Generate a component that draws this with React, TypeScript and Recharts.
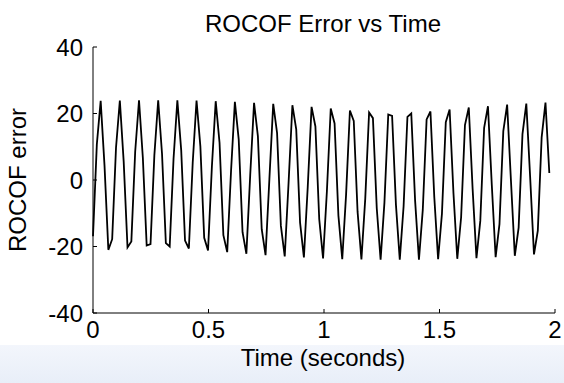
import { LineChart, Line, XAxis, YAxis } from "recharts"

// ROCOF error, sampled every SAMPLE_INTERVAL seconds starting at t = 0
const SAMPLE_INTERVAL = 0.0166
const ROCOF_ERROR = [
  -16.9, 10.7, 23.8, 4.4, -21.0,
  -17.8, 9.7, 23.9, 5.6, -20.3,
  -18.5, 8.5, 24.0, 6.7, -19.7,
  -19.3, 7.4, 24.0, 7.9, -19.0,
  -20.0, 6.3, 24.0, 9.0, -18.2,
  -20.6, 5.1, 23.9, 10.1, -17.4,
  -21.2, 3.9, 23.7, 11.2, -16.6,
  -21.7, 2.7, 23.5, 12.2, -15.7,
  -22.2, 1.5, 23.2, 13.2, -14.8,
  -22.6, 0.3, 22.9, 14.2, -13.8,
  -23.0, -0.9, 22.5, 15.2, -12.8,
  -23.3, -2.1, 22.0, 16.1, -11.8,
  -23.6, -3.3, 21.5, 17.0, -10.7,
  -23.8, -4.4, 20.9, 17.8, -9.6,
  -23.9, -5.6, 20.3, 18.6, -8.5,
  -24.0, -6.8, 19.7, 19.3, -7.4,
  -24.0, -7.9, 19.0, 20.0, -6.2,
  -24.0, -9.0, 18.2, 20.6, -5.1,
  -23.8, -10.1, 17.4, 21.2, -3.9,
  -23.7, -11.2, 16.5, 21.8, -2.7,
  -23.5, -12.3, 15.7, 22.2, -1.5,
  -23.2, -13.3, 14.7, 22.7, -0.3,
  -22.8, -14.3, 13.8, 23.0, 0.9,
  -22.4, -15.2, 12.8, 23.3, 2.1,
]
const X_TICKS = [0, 0.5, 1, 1.5, 2]
const Y_TICKS = [-40, -20, 0, 20, 40]

const FONT = "'Liberation Sans', Arial, sans-serif"

const data = ROCOF_ERROR.map((err, i) => ({ t: i * SAMPLE_INTERVAL, err }))

function XTick({ x, y, payload }: any) {
  return (
    <g>
      <line x1={x} y1={y} x2={x} y2={y - 4} stroke="#000" strokeWidth={1} />
      <text x={x} y={y} dy={25} textAnchor="middle" fontSize={24} fontFamily={FONT} fill="#000">
        {payload.value}
      </text>
    </g>
  )
}

function YTick({ x, y, payload }: any) {
  return (
    <g>
      <line x1={x} y1={y} x2={x + 4} y2={y} stroke="#000" strokeWidth={1} />
      <text x={x - 10} y={y} dy={8.6} textAnchor="end" fontSize={24} fontFamily={FONT} fill="#000">
        {payload.value}
      </text>
    </g>
  )
}

const labelStyle: React.CSSProperties = {
  position: "absolute",
  fontFamily: FONT,
  fontSize: 24,
  lineHeight: "24px",
  color: "#000",
  whiteSpace: "nowrap",
  textAlign: "center",
}

export default function App() {
  return (
    <div style={{ position: "fixed", left: 0, top: 0, width: 564, height: 383, background: "#fff", overflow: "hidden" }}>
      <div
        style={{
          position: "absolute",
          left: 0,
          top: 345,
          width: 564,
          height: 38,
          background: "linear-gradient(#f3f6fc, #e8eef8)",
        }}
      />
      <div style={{ position: "absolute", left: 0, top: 0 }}>
        <LineChart width={564} height={383} data={data} margin={{ top: 47, right: 9, bottom: 0, left: 0 }}>
          <XAxis
            dataKey="t"
            type="number"
            domain={[0, 2]}
            ticks={X_TICKS}
            interval={0}
            height={70}
            tickSize={0}
            tickMargin={0}
            tickLine={false}
            axisLine={{ stroke: "#000", strokeWidth: 1 }}
            tick={<XTick />}
          />
          <YAxis
            type="number"
            domain={[-40, 40]}
            ticks={Y_TICKS}
            interval={0}
            width={93}
            tickSize={0}
            tickMargin={0}
            tickLine={false}
            axisLine={{ stroke: "#000", strokeWidth: 1 }}
            tick={<YTick />}
          />
          <Line
            dataKey="err"
            type="linear"
            stroke="#000"
            strokeWidth={1.8}
            dot={false}
            isAnimationActive={false}
          />
        </LineChart>
      </div>
      <div style={{ ...labelStyle, left: 123, top: 12, width: 400 }}>ROCOF Error vs Time</div>
      <div style={{ ...labelStyle, left: 123, top: 346, width: 400 }}>Time (seconds)</div>
      <div
        style={{
          ...labelStyle,
          left: 17.5 - 100,
          top: 180 - 12,
          width: 200,
          transform: "rotate(-90deg)",
        }}
      >
        ROCOF error
      </div>
    </div>
  )
}
